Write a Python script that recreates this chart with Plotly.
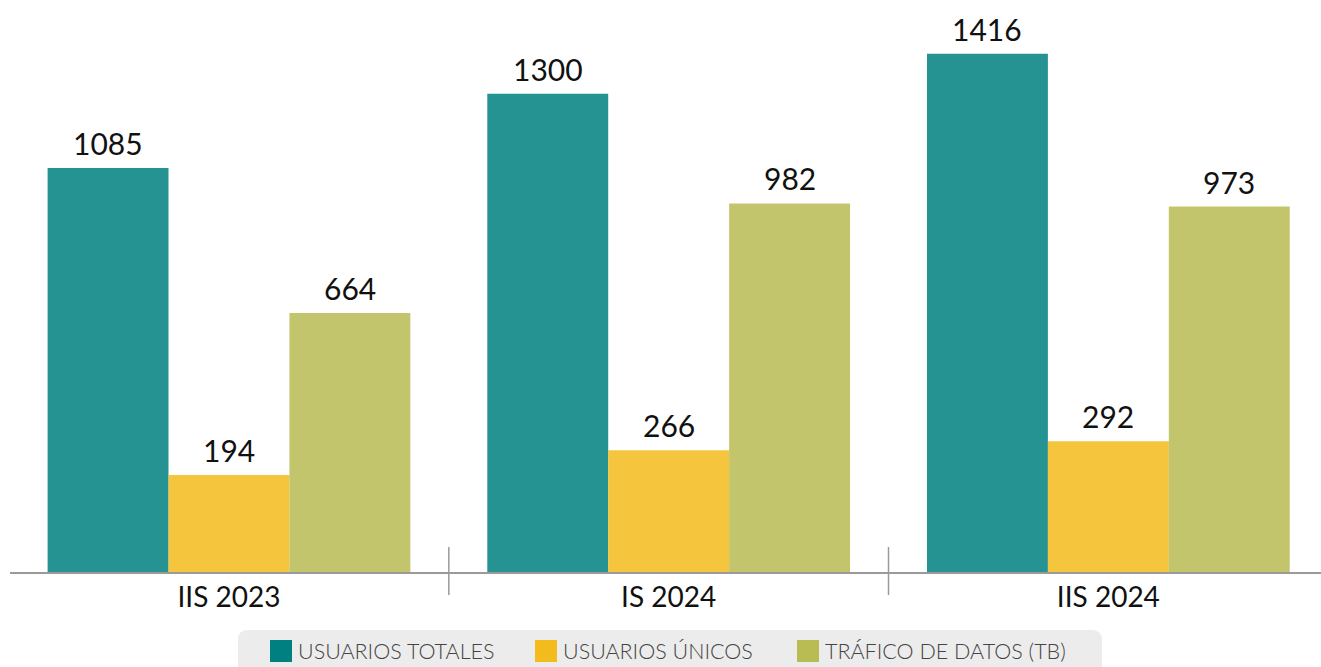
import plotly.graph_objects as go

# Periods and series
periods = ["IIS 2023", "IS 2024", "IIS 2024"]
series_names = ["USUARIOS TOTALES", "USUARIOS ÚNICOS", "TRÁFICO DE DATOS (TB)"]
usuarios_totales = [1085, 1300, 1416]
usuarios_unicos = [194, 266, 292]
trafico_datos = [664, 982, 973]
series_values = [usuarios_totales, usuarios_unicos, trafico_datos]

colors = ["#008080", "#f3bb1b", "#b9bb53"]

# Value axis starts below zero; bars rise from the axis floor up to their value
AXIS_FLOOR = -87
AXIS_TOP = 1572
BARGAP = 0.175

W, H = 1321, 667
ML, MR, MT, MB = 10, 0, 0, 95
PW, PH = W - ML - MR, H - MT - MB


def px_x(px):
    return (px - ML) / PW


def px_y(py):
    return (H - MB - py) / PH


fig = go.Figure()
annotations = []
n_series = len(series_values)
bar_w = (1 - BARGAP) / n_series
for j, (name, vals, col) in enumerate(zip(series_names, series_values, colors)):
    fig.add_trace(go.Bar(
        x=periods,
        y=[v - AXIS_FLOOR for v in vals],
        base=[AXIS_FLOOR] * len(vals),
        name=name,
        marker=dict(color=col, opacity=0.85, line=dict(width=0)),
        customdata=vals,
        showlegend=False,
        hovertemplate=name + ": %{customdata}<extra></extra>",
    ))
    # value label above each bar
    offset = (j - (n_series - 1) / 2) * bar_w
    for i, v in enumerate(vals):
        annotations.append(dict(xref="x", yref="y", x=i + offset, y=v,
                                text=str(v), showarrow=False,
                                xanchor="center", yanchor="middle", yshift=25,
                                font=dict(family="Lato", size=30, color="#111111")))

shapes = []
# separators between periods, crossing the axis line
for i in range(len(periods) - 1):
    shapes.append(dict(type="line", xref="x", yref="paper",
                       x0=i + 0.5, x1=i + 0.5, y0=px_y(595), y1=px_y(547),
                       line=dict(color="#9a9a9a", width=1.5), layer="above"))

# legend panel with rounded top corners
lx0, lx1, ly0, ly1, r = 238, 1102, 630, 672, 10
path = (f"M {px_x(lx0)},{px_y(ly1)} L {px_x(lx0)},{px_y(ly0 + r)} "
        f"Q {px_x(lx0)},{px_y(ly0)} {px_x(lx0 + r)},{px_y(ly0)} "
        f"L {px_x(lx1 - r)},{px_y(ly0)} "
        f"Q {px_x(lx1)},{px_y(ly0)} {px_x(lx1)},{px_y(ly0 + r)} "
        f"L {px_x(lx1)},{px_y(ly1)} Z")
shapes.append(dict(type="path", xref="paper", yref="paper", path=path,
                   fillcolor="#ececec", line=dict(width=0), layer="below"))

legend_swatch_x = [270, 535, 797]
sw = 22
for name, col, sx in zip(series_names, colors, legend_swatch_x):
    shapes.append(dict(type="rect", xref="paper", yref="paper",
                       x0=px_x(sx), x1=px_x(sx + sw), y0=px_y(662), y1=px_y(640),
                       fillcolor=col, line=dict(width=0)))
    annotations.append(dict(xref="paper", yref="paper", x=px_x(sx + sw + 4), y=px_y(651),
                            xanchor="left", yanchor="middle", text=name, showarrow=False,
                            font=dict(family="Lato", size=21.5, color="#444444", weight=300)))

fig.update_layout(
    width=W, height=H,
    margin=dict(l=ML, r=MR, t=MT, b=MB, pad=0),
    paper_bgcolor="white", plot_bgcolor="white",
    barmode="group", bargap=BARGAP, bargroupgap=0,
    xaxis=dict(range=[-0.498, 2.4836], showline=True, linecolor="#9a9a9a", linewidth=1.5,
               ticks="", showgrid=False, zeroline=False, fixedrange=True,
               tickfont=dict(family="Lato", size=28, color="#111111")),
    yaxis=dict(range=[AXIS_FLOOR, AXIS_TOP], visible=False, fixedrange=True),
    shapes=shapes,
    annotations=annotations,
    showlegend=False,
)

fig.write_html("out.html")
